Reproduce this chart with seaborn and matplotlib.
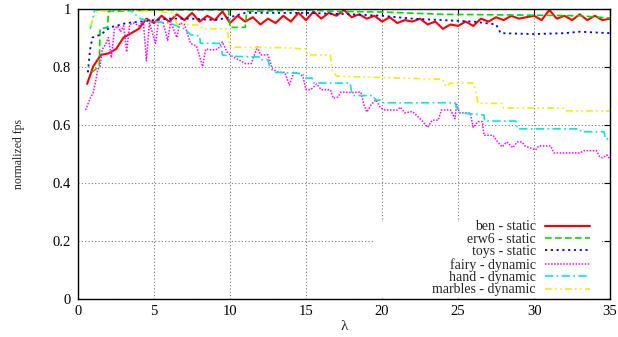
import numpy as np
import pandas as pd
import matplotlib
matplotlib.use('Agg')
import matplotlib.pyplot as plt
import seaborn as sns
from matplotlib.patches import Rectangle

# --- data (lambda vs normalized fps) ---
ben_x = [0.6, 1.0, 1.5, 2.0, 2.5, 3.0, 3.5, 4.0, 4.5, 5.0, 5.5, 6.0, 6.5, 7.0, 7.5, 8.0, 8.5, 9.0,
         9.5, 10.0, 10.5, 11.0, 11.5, 12.0, 12.5, 13.0, 13.5, 14.0, 14.5, 15.0, 15.5, 16.0, 16.5,
         17.0, 17.5, 18.0, 18.5, 19.0, 19.5, 20.0, 20.5, 21.0, 21.5, 22.0, 22.5, 23.0, 23.5, 24.0,
         24.5, 25.0, 25.5, 26.0, 26.5, 27.0, 27.5, 28.0, 28.5, 29.0, 29.5, 30.0, 30.5, 31.0, 31.5,
         32.0, 32.5, 33.0, 33.5, 34.0, 34.5, 35.0]
ben_y = [0.74, 0.80, 0.84, 0.845, 0.86, 0.90, 0.915, 0.93, 0.965, 0.95, 0.975, 0.955, 0.98, 0.96,
         0.985, 0.955, 0.975, 0.96, 0.99, 0.95, 0.975, 0.955, 0.97, 0.945, 0.965, 0.95, 0.975, 0.955,
         0.985, 0.96, 0.99, 0.965, 0.985, 0.975, 0.995, 0.97, 0.98, 0.965, 0.975, 0.955, 0.97, 0.95,
         0.96, 0.955, 0.965, 0.945, 0.955, 0.93, 0.945, 0.94, 0.955, 0.94, 0.965, 0.955, 0.97, 0.96,
         0.975, 0.965, 0.97, 0.975, 0.96, 0.995, 0.965, 0.975, 0.96, 0.98, 0.96, 0.975, 0.96, 0.965]

erw6_x = [0.9, 1.4, 1.45, 1.95, 2.0, 5.0, 9.9, 10.0, 11.0, 11.1, 15.0, 17.0, 20.0, 24.0, 30.0, 33.0, 35.0]
erw6_y = [0.78, 0.80, 0.93, 0.935, 0.99, 0.995, 0.995, 0.935, 0.935, 0.99, 0.995, 0.99, 0.988, 0.98,
          0.977, 0.975, 0.967]

toys_x = [0.65, 0.8, 0.95, 1.5, 2.1, 3.2, 4.1, 5.0, 6.0, 7.5, 9.0, 10.0, 11.0, 15.0, 18.0, 20.0,
          22.0, 24.0, 26.0, 27.5, 27.8, 30.0, 32.0, 33.0, 35.0]
toys_y = [0.78, 0.86, 0.90, 0.91, 0.935, 0.95, 0.955, 0.96, 0.965, 0.965, 0.96, 0.97, 0.985, 0.985,
          0.98, 0.975, 0.965, 0.96, 0.955, 0.945, 0.915, 0.912, 0.915, 0.92, 0.915]

fairy_x = [0.5, 0.8, 1.0, 1.2, 1.3, 1.45, 1.6, 1.8, 2.0, 2.2, 2.4, 2.6, 2.8, 3.0, 3.2, 3.4, 3.7, 4.0,
           4.3, 4.5, 4.7, 5.1, 5.3, 5.6, 5.9, 6.1, 6.5, 6.7, 7.0, 7.4, 7.8, 8.2, 8.4, 8.8, 9.2, 9.5,
           9.8, 10.2, 10.7, 11.0, 11.4, 11.8, 12.0, 12.5, 12.8, 13.2, 13.6, 13.9, 14.2, 14.6, 14.8,
           15.0, 15.3, 15.7, 16.0, 16.6, 16.8, 17.1, 17.3, 18.0, 18.6, 18.8, 19.0, 19.3, 19.6, 19.9,
           20.2, 21.0, 21.2, 21.5, 22.0, 22.3, 22.6, 23.0, 23.3, 23.7, 23.9, 24.5, 24.8, 24.9, 25.1,
           25.8, 26.0, 26.3, 26.6, 26.7, 27.3, 27.6, 27.9, 28.2, 28.6, 28.9, 29.2, 29.4, 30.1, 30.3,
           31.1, 31.3, 33.0, 33.3, 34.1, 34.3, 34.5, 34.8, 35.0]
fairy_y = [0.65, 0.69, 0.71, 0.76, 0.79, 0.80, 0.86, 0.875, 0.90, 0.83, 0.93, 0.94, 0.92, 0.94, 0.85,
           0.945, 0.95, 0.94, 0.955, 0.82, 0.95, 0.88, 0.955, 0.95, 0.89, 0.955, 0.90, 0.95, 0.945,
           0.88, 0.87, 0.80, 0.86, 0.857, 0.86, 0.885, 0.85, 0.833, 0.82, 0.81, 0.81, 0.868, 0.84,
           0.84, 0.79, 0.78, 0.78, 0.736, 0.78, 0.775, 0.764, 0.72, 0.72, 0.74, 0.72, 0.72, 0.69,
           0.695, 0.712, 0.71, 0.712, 0.67, 0.643, 0.67, 0.685, 0.657, 0.65, 0.65, 0.66, 0.64, 0.645,
           0.63, 0.615, 0.59, 0.615, 0.615, 0.65, 0.65, 0.62, 0.67, 0.64, 0.64, 0.59, 0.61, 0.61,
           0.563, 0.563, 0.54, 0.523, 0.54, 0.52, 0.54, 0.54, 0.526, 0.512, 0.526, 0.526, 0.502,
           0.502, 0.51, 0.51, 0.49, 0.485, 0.495, 0.48]

hand_x = [0.8, 1.1, 3.4, 4.1, 5.0, 6.0, 7.0, 7.4, 8.0, 8.05, 9.4, 9.5, 10.2, 12.0, 12.1, 12.5, 12.6,
          12.9, 14.0, 14.8, 14.9, 15.4, 15.5, 17.9, 18.0, 18.1, 19.4, 19.6, 19.9, 20.0, 24.8, 24.9,
          25.1, 26.7, 26.75, 28.8, 28.9, 33.0, 33.1, 34.6, 34.7, 35.0]
hand_y = [0.93, 0.995, 0.995, 0.965, 0.955, 0.95, 0.93, 0.91, 0.905, 0.88, 0.88, 0.84, 0.835, 0.833,
          0.823, 0.823, 0.80, 0.78, 0.778, 0.775, 0.76, 0.76, 0.743, 0.743, 0.712, 0.70, 0.70, 0.684,
          0.684, 0.675, 0.675, 0.66, 0.64, 0.633, 0.612, 0.612, 0.585, 0.585, 0.575, 0.575, 0.55, 0.55]

marbles_x = [0.8, 1.25, 3.0, 5.0, 6.3, 6.5, 8.0, 8.2, 9.8, 10.0, 13.7, 15.0, 15.1, 16.6, 16.7, 17.0,
             20.0, 24.0, 24.2, 24.5, 26.0, 26.2, 26.3, 27.9, 28.0, 31.9, 32.1, 35.0]
marbles_y = [0.94, 0.99, 0.995, 0.99, 0.985, 0.945, 0.943, 0.93, 0.93, 0.867, 0.865, 0.86, 0.84, 0.84,
             0.79, 0.767, 0.762, 0.756, 0.73, 0.743, 0.743, 0.708, 0.673, 0.673, 0.657, 0.657, 0.647,
             0.647]

names = ['ben - static', 'erw6 - static', 'toys - static',
         'fairy - dynamic', 'hand - dynamic', 'marbles - dynamic']
y_tick_labels = ['0', '0.2', '0.4', '0.6', '0.8', '1']

series = [
    (names[0], ben_x, ben_y, '#ff0000', '-', 1.5),
    (names[1], erw6_x, erw6_y, '#00dd00', (0, (4, 2)), 1.2),
    (names[2], toys_x, toys_y, '#0000ff', (0, (1.2, 2)), 1.3),
    (names[3], fairy_x, fairy_y, '#ff00ff', (0, (1, 1)), 1.1),
    (names[4], hand_x, hand_y, '#00e8e8', (0, (5, 2, 1, 2)), 1.2),
    (names[5], marbles_x, marbles_y, '#f0f000', (0, (4, 2, 1, 2, 1, 2)), 1.2),
]

sns.set_theme(style='white')
plt.rcParams['font.family'] = ['Liberation Serif', 'DejaVu Serif']

fig = plt.figure(figsize=(6.18, 3.37), dpi=100)
ax = fig.add_axes([0.1262, 0.1142, 0.861, 0.8605])

for name, xs, ys, col, ls, lw in series:
    df = pd.DataFrame({'lam': xs, 'fps': ys})
    sns.lineplot(data=df, x='lam', y='fps', color=col, linestyle=ls, linewidth=lw,
                 label=name, estimator=None, sort=False, ax=ax)

ax.set_xlim(0, 35)
ax.set_ylim(0, 1)
ax.set_xticks([0, 5, 10, 15, 20, 25, 30, 35])
ax.set_yticks([0, 0.2, 0.4, 0.6, 0.8, 1.0])
ax.set_yticklabels(y_tick_labels)

ax.grid(True, color='#777777', linestyle=(0, (1, 2)), linewidth=0.8)
ax.set_axisbelow(True)
# gnuplot-style key box hides the grid behind it
ax.add_patch(Rectangle((0.558, 0.003), 0.423, 0.261, transform=ax.transAxes,
                       facecolor='white', edgecolor='none', zorder=1))

for s in ax.spines.values():
    s.set_color('black')
    s.set_linewidth(1.0)
ax.tick_params(direction='in', top=True, right=True, length=4, width=0.8,
               labelsize=10.5, colors='black', pad=5)

ax.set_xlabel('λ', fontsize=11, labelpad=1)
ax.set_ylabel('normalized fps', fontsize=8.5, labelpad=20)

leg = ax.legend(loc='lower right', bbox_to_anchor=(0.966, 0.0), markerfirst=False,
                frameon=False, fontsize=10, handlelength=3.2, labelspacing=-0.04,
                handletextpad=0.7, borderpad=0.15, borderaxespad=0)

fig.savefig('out.png', dpi=100)
